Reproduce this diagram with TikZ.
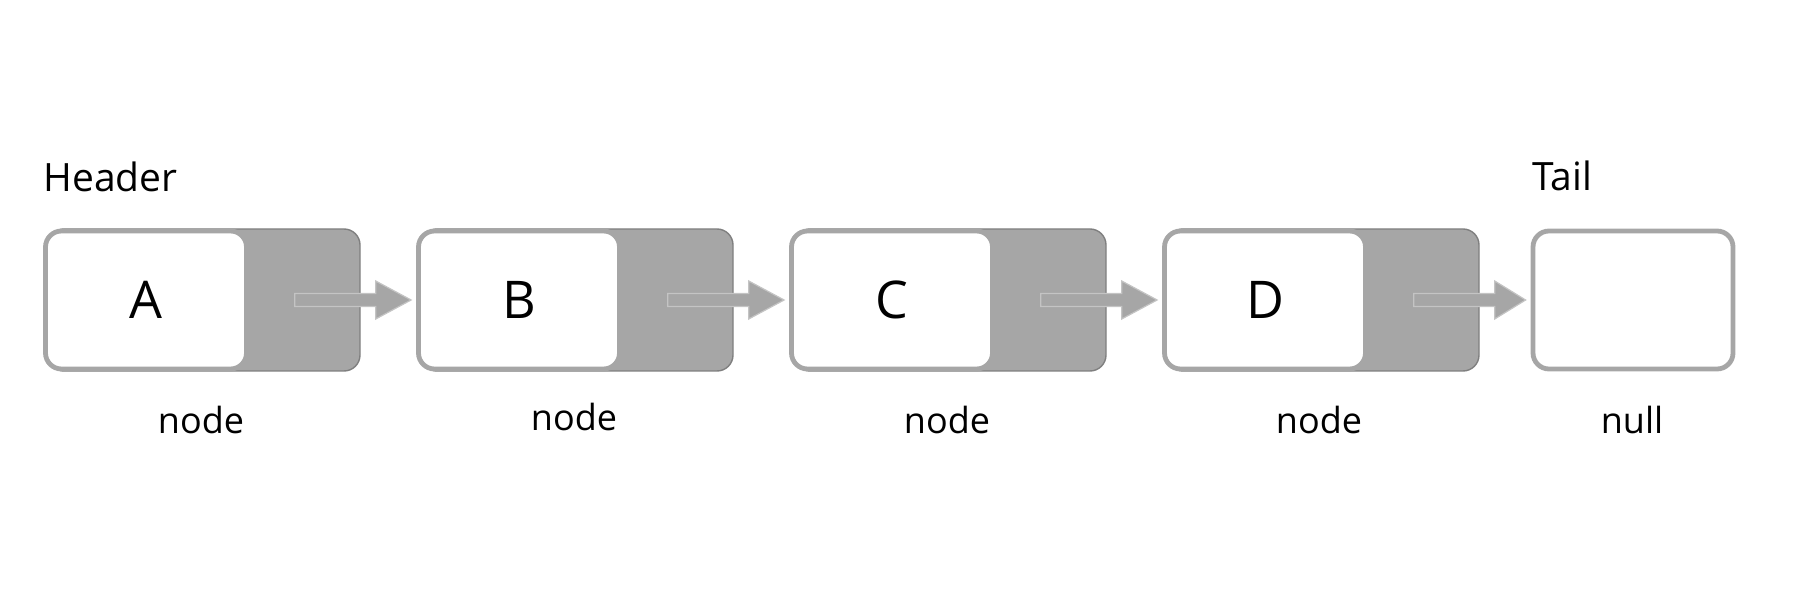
\documentclass[tikz,border=0pt]{standalone}
\usepackage{fontspec}
\setmainfont{Open Sans}
\usetikzlibrary{calc}
\definecolor{gfill}{HTML}{A6A6A6}
\definecolor{gedge}{HTML}{7F7F7F}
\definecolor{aedge}{HTML}{C4C4C4}
\begin{document}
\begin{tikzpicture}[x=0.5pt,y=-0.5pt,
  databox/.style={draw=gfill,line width=2.4pt,fill=white,rounded corners=8pt,minimum width=100.5pt,minimum height=69pt,inner sep=0pt,font=\fontsize{26}{30}\selectfont},
  ptrbox/.style={draw=gedge,line width=0.7pt,fill=gfill,rounded corners=8pt,minimum width=156pt,minimum height=71pt,inner sep=0pt},
  blockarrow/.style={fill=gfill,draw=aedge,line width=0.6pt},
  lbl/.style={font=\fontsize{18}{22}\selectfont,anchor=base,inner sep=0pt},
  ttl/.style={font=\fontsize{19.5}{23}\selectfont,anchor=base west,inner sep=0pt}]
\path[use as bounding box] (0,0) rectangle (1793,614);
% pointer (gray) boxes
\foreach \n/\i in {gA/0,gB/1,gC/2,gD/3}{
  \node[ptrbox] (\n) at (204+373*\i,300) {};
}
% data (white) boxes
\node[databox] (A) at (146,300) {A};
\node[databox] (B) at (519,300) {B};
\node[databox] (C) at (892,300) {C};
\node[databox] (D) at (1265,300) {D};
\node[databox,minimum width=100pt] (T) at (1633,300) {};
% block arrows
\foreach \s/\t in {gA/B,gB/C,gC/D,gD/T}{
  \draw[blockarrow] ($(\s.east)+(-66,-6.5)$) -- ($(\s.east)+(15,-6.5)$) -- ($(\s.east)+(15,-19)$)
    -- ($(\t.west)+(-5,0)$) -- ($(\s.east)+(15,19)$) -- ($(\s.east)+(15,6.5)$) -- ($(\s.east)+(-66,6.5)$) -- cycle;
}
% labels
\node[lbl] (lA) at (201,433) {node};
\node[lbl] (lB) at (574,430) {node};
\node[lbl] (lC) at (947,433) {node};
\node[lbl] (lD) at (1319,433) {node};
\node[lbl] (lT) at (1632,433) {null};
\node[ttl] (hd) at (43,192) {Header};
\node[ttl] (tl) at (1532,191) {Tail};
\end{tikzpicture}
\end{document}
